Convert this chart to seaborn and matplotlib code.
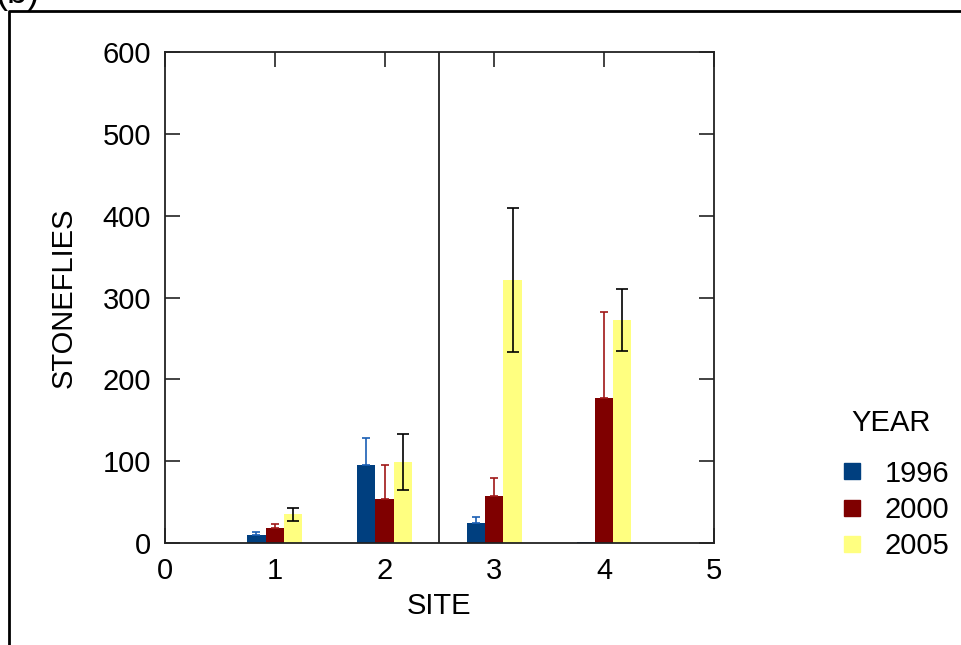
import numpy as np
import pandas as pd
import matplotlib
matplotlib.use("Agg")
import matplotlib.pyplot as plt
from matplotlib.lines import Line2D
import seaborn as sns

# Stonefly counts per site and survey year (mean and standard error)
sites = [1, 2, 3, 4]
years = ["1996", "2000", "2005"]
mean_1996 = [10, 95, 24, 1]
mean_2000 = [19, 54, 57, 177]
mean_2005 = [35, 99, 322, 273]
err_1996 = [3, 34, 8, 0]
err_2000 = [4, 42, 22, 105]
err_2005 = [8, 34, 88, 38]
colors = ["#003F7F", "#7F0000", "#FFFF80"]
err_colors = ["#1A5FB4", "#A01818", "#000000"]
x_ticks = [0, 1, 2, 3, 4, 5]
y_ticks = [0, 100, 200, 300, 400, 500, 600]

sns.set_style("ticks")
plt.rcParams["font.family"] = ["Liberation Sans", "DejaVu Sans"]
plt.rcParams.update({"text.color": "black", "axes.labelcolor": "black",
                     "xtick.color": "black", "ytick.color": "black"})

rows = []
for yr, means in zip(years, [mean_1996, mean_2000, mean_2005]):
    for s, m in zip(sites, means):
        rows.append({"SITE": s, "YEAR": yr, "STONEFLIES": m})
df = pd.DataFrame(rows)

fig = plt.figure(figsize=(9.62, 6.45), dpi=100)
ax = fig.add_axes([0.1715, 0.158, 0.5705, 0.761])

sns.barplot(data=df, x="SITE", y="STONEFLIES", hue="YEAR", hue_order=years,
            palette=colors, saturation=1, native_scale=True, width=0.5,
            errorbar=None, linewidth=0, ax=ax, legend=False)

# Error bars: one-sided for 1996 and 2000, two-sided for 2005
offsets = [-1 / 6, 0.0, 1 / 6]
for i, (means, errs) in enumerate(zip([mean_1996, mean_2000, mean_2005],
                                      [err_1996, err_2000, err_2005])):
    xs = np.array(sites) + offsets[i]
    lower = errs if i == 2 else [0] * len(errs)
    keep = [k for k, e in enumerate(errs) if e > 0]
    ax.errorbar(xs[keep], np.array(means)[keep],
                yerr=[np.array(lower)[keep], np.array(errs)[keep]],
                fmt="none", ecolor=err_colors[i], elinewidth=1.2,
                capsize=4 if i == 2 else 3, capthick=1.2, zorder=3)

ax.axvline(2.5, color="#222222", lw=1.3, zorder=1)

ax.set_xlim(0, 5)
ax.set_ylim(0, 600)
ax.set_xticks(x_ticks)
ax.set_yticks(y_ticks)
ax.tick_params(direction="in", length=11, width=1.2, labelsize=21,
               top=True, right=True, pad=10, color="#222222")
for sp in ax.spines.values():
    sp.set_color("#222222")
    sp.set_linewidth(1.3)
ax.set_xlabel("SITE", fontsize=21, labelpad=5)
ax.set_ylabel("STONEFLIES", fontsize=21, labelpad=18)

handles = [Line2D([0], [0], marker="s", linestyle="none", markersize=12,
                  markerfacecolor=c, markeredgecolor=c) for c in colors]
ax.legend(handles, years, frameon=False, fontsize=21, loc="center left",
          bbox_to_anchor=(1.226, 0.068), labelspacing=0.28,
          handletextpad=0.6, handlelength=1.0, borderpad=0, borderaxespad=0)
fig.text(891 / 962, 1 - 423 / 645, "YEAR", fontsize=21, ha="center", va="center")

# Outer panel frame and panel label
fig.add_artist(Line2D([9 / 962, 9 / 962, 1.0], [0.0, 1 - 11 / 645, 1 - 11 / 645],
                      transform=fig.transFigure, color="black", lw=2))
fig.text(-0.004, 1 - 3 / 645, "(b)", fontsize=26, va="baseline", ha="left")

fig.savefig("out.png", dpi=100)
